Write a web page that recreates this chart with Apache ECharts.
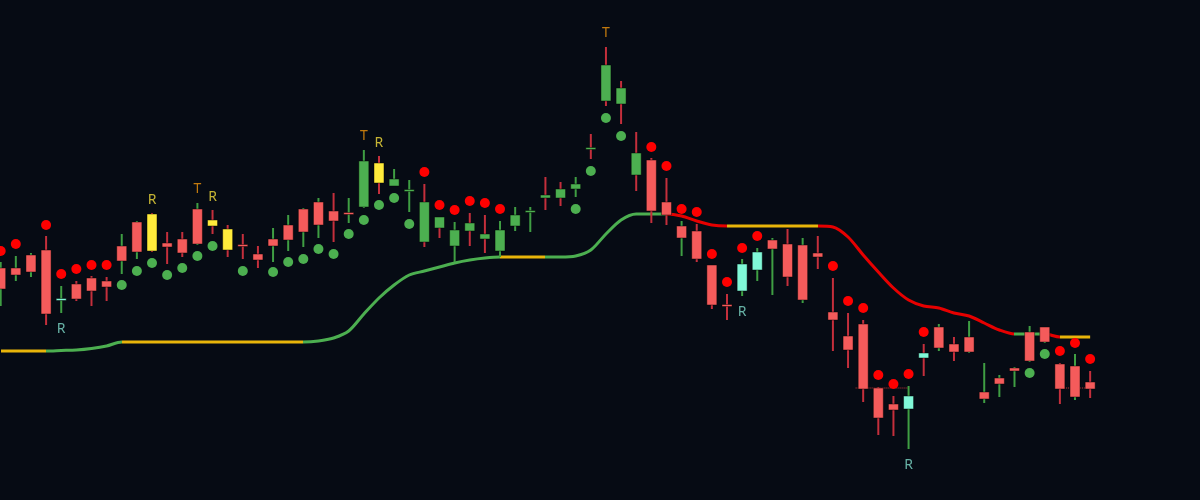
<!DOCTYPE html>
<html><head><meta charset="utf-8">
<script src="https://cdn.jsdelivr.net/npm/echarts@6/dist/echarts.min.js"></script>
<style>html,body{margin:0;padding:0;background:#060b14}#c{width:1200px;height:500px}</style>
</head><body><div id="c"></div><script>
// ---- data (price units) ----
const opens  = [211,225,228,250,201,216,222,219,239,248,286,257,261,256,280,271,255.5,246,254,260,268,275,289,287,293,337,314,310,298,283,254,277,266,249,274,289,305,311,311,352.5,435,412,347,340,298,262,269,235,195.5,209,230,251,256,200,247,188,164,176,112,96,91,147,152,156,148,101,116,129,139,158,136,103,118];
const closes = [232,232,245,186,201.5,201,209,213,254,278,249,253,247,291,274,250,255,240,261,275,291,298,279,287.5,339,317,321,310.5,258,272,270,269,261,270,285,289.5,302,302,316,352,399,396,325,289,285,274,241,195,195,236,248,260,223,255,243,180,150,111,82,90,104,142,173,148,163,108,122,132,168,173,111,134,111];
const highs  = [238,244,247,264,214,219,224,223,266,279,287,268,268,297,290,275,266,254,272,285,292,302,307,302,350,344,331,320,316,283,278,287,285,279,293,293,323,318,323,366,453,419,368,342,322,279,276,235,206,241,252,262,271,262,264,222,187,180,113,104,114,156,176,163,179,137,125,133,174,173,137,146,129];
const lows   = [194,219,223,175,187,199,194,199,226,241,248,236,243,255,266,243,241,232,238,249,253,262,258,277,292,306,314,288,253,262,238,254,247,243,269,268,290,294,303,341,394,376,309,277,275,244,238,191,180,204,219,205,214,197,231,149,132,98,65,64,51,124,149,139,147,97,103,113,138,157,96,100,102];
// body state: r = bearish trend, g = bullish trend, y = warning, a = reversal
const bodyState = ['r','r','r','r','a','r','r','r','r','r','y','r','r','r','y','y','r','r','r','r','r','r','r','r','g','y','g','g',
  'g','g','g','g','g','g','g','g','g','g','g','g','g','g','g',
  'r','r','r','r','r','r','a','a','r','r','r','r','r','r','r','r','r','a','a',
  'r','r','r','r','r','r','r','r','r','r','r'];
const sarDots = [249,256,null,275,226,231,235,235,215,229,237,225,232,244,254,null,229,null,228,238,241,251,246,266,280,295,302,276,328,295,290,299,297,291,null,null,null,null,291,329,382,364,null,353,334,291,288,246,218,252,264,null,null,null,null,234,199,192,125,116,126,168,null,null,null,null,null,null,127,146,149,157,141];
const trail = [149,149,149,149,149.5,150,151.5,154,
  158,158,158,158,158,158,158,158,158,158,158,158,158,
  159,162,169,186,202,215,225,229,233,237,240,242,
  243,243,243,243,243,244,250,266,280,286,286,286,
  284,279,275,274,274,274,274,274,274,274,
  273,263,245,228,212,200,194,192,187,184,177,170,
  166,166,166,163,163,163];
const trendBreaks = [0,3,8,20,33,36,44,48,54,67,69,70];
const trendState  = ['y','g','y','g','y','g','r','y','r','g','r','y'];
const tSignals = [13,24,40];
const rSignals = [4,10,14,25,49,60];
const dashFrom = [56.5,70];
const dashTo   = [60,72];
const dashLevel = [112,112];

// ---- styles ----
const bodyColors = {r:'#f45b5b', g:'#4caf50', y:'#ffeb3b', a:'#80f8d8'};
const wickUp = '#3f9e43', wickDown = '#c42f3c';
const trendColors = {g:'#4caf50', y:'#e8b50a', r:'#e60000'};

const chart = echarts.init(document.getElementById('c'), null, {renderer:'canvas'});
const candleData = opens.map((o,i)=>[i,o,closes[i],lows[i],highs[i]]);

const pieces = trendBreaks.map((b,k)=>{
  const p = {gte:b, color:trendColors[trendState[k]]};
  if (k < trendBreaks.length-1) p.lt = trendBreaks[k+1];
  return p;
});

const series = [];
series.push({
  type:'line', data: trail.map((v,i)=>[i,v]), showSymbol:false, smooth:0.3,
  lineStyle:{width:3}, z:1, silent:true
});
dashFrom.forEach((f,k)=>{
  series.push({type:'line', data:[[f,dashLevel[k]],[dashTo[k],dashLevel[k]]], symbol:'none',
    lineStyle:{type:'dotted', width:1, color:'#c83a3a'}, z:2, silent:true});
});
series.push({
  type:'custom', z:3, data:candleData,
  renderItem:(params, api)=>{
    const i=api.value(0), o=api.value(1), c=api.value(2), l=api.value(3), h=api.value(4);
    const pH=api.coord([i,h]), pL=api.coord([i,l]), pO=api.coord([i,o]), pC=api.coord([i,c]);
    const bw = 10;
    const top = Math.min(pO[1],pC[1]);
    const ht = Math.max(2, Math.abs(pO[1]-pC[1]));
    const wc = c >= o ? wickUp : wickDown;
    return {type:'group', children:[
      {type:'line', shape:{x1:pH[0],y1:pH[1],x2:pL[0],y2:pL[1]}, style:{stroke:wc, lineWidth:2}},
      {type:'rect', shape:{x:pO[0]-bw/2, y:top, width:bw, height:ht},
        style:{fill:bodyColors[bodyState[params.dataIndex]], stroke:'rgba(0,0,0,0.45)', lineWidth:1}}
    ]};
  }
});
series.push({
  type:'scatter', z:4, symbolSize:10, silent:true,
  data: sarDots.map((v,i)=> v===null ? null : {value:[i,v], itemStyle:{opacity:1, color: v>closes[i] ? '#ff0000' : '#4caf50'}})
    .filter(d=>d!==null)
});
const labelData = [];
tSignals.forEach(i=>labelData.push({value:[i,highs[i]], label:{formatter:'T', color:'#f0950c', position:'top', distance:7}}));
rSignals.forEach(i=>{
  if (bodyState[i]==='a') labelData.push({value:[i,lows[i]], label:{formatter:'R', color:'#80dccb', position:'bottom', distance:9}});
  else labelData.push({value:[i,highs[i]], label:{formatter:'R', color:'#f5df3c', position:'top', distance:6}});
});
series.push({
  type:'scatter', z:5, symbolSize:0, data:labelData, silent:true,
  label:{show:true, fontSize:14, fontFamily:'Noto Sans, sans-serif'}
});

chart.setOption({
  backgroundColor:'#060b14',
  animation:false,
  grid:{left:0,right:0,top:0,bottom:0},
  xAxis:{type:'value', min:-0.046, max:79.26, show:false},
  yAxis:{type:'value', min:0, max:500, show:false},
  visualMap:{type:'piecewise', show:false, dimension:0, seriesIndex:0, pieces:pieces},
  series:series
});
</script></body></html>
